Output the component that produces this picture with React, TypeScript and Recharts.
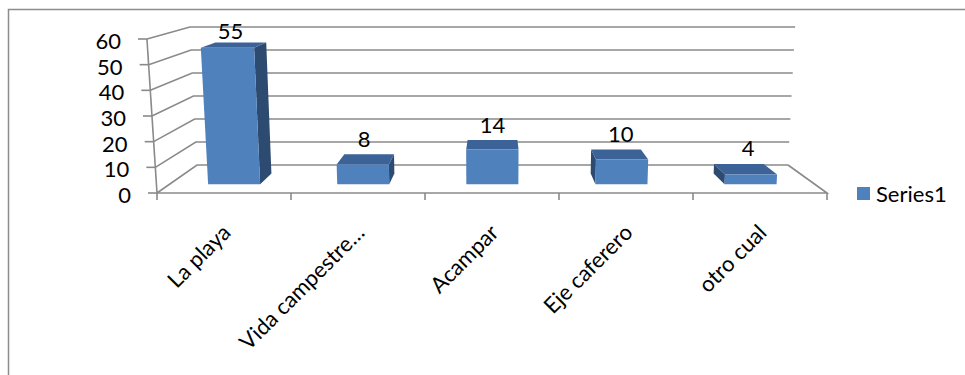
import { Bar, BarChart, Customized, LabelList, Legend, XAxis, YAxis } from "recharts";

const CATEGORIES = ["La playa", "Vida campestre…", "Acampar", "Eje caferero", "otro cual"];
const SERIES1 = [55, 8, 14, 10, 4];
const Y_TICKS = [0, 10, 20, 30, 40, 50, 60];
const Y_MAX = 60;

const data = CATEGORIES.map((name, i) => ({ name, Series1: SERIES1[i] }));

const FONT = "Lato, 'Open Sans', sans-serif";
const FONT_SIZE = 22;
const GRID = "#8a8a8a";
const FRONT = "#4f81bd";
const TOP = "#3b6397";
const SIDE = "#2d4a70";

// front plane of the 3-D box = the recharts plot area
const PLOT = { left: 157, top: 39, width: 670, height: 154 };
// back wall, where the gridlines sit
const BACK = { left: 197, bottom: 165, width: 591, height: 138 };
const CX = 492;
const BAR_T0 = 0.31;
const BAR_T1 = 0.7;

// u: across the category range, w: fraction of the value range, t: depth (0 front, 1 back)
function proj(u: number, w: number, t: number): [number, number] {
  const xf = PLOT.left + PLOT.width * u;
  const yf = PLOT.top + PLOT.height * (1 - w);
  const xb = BACK.left + BACK.width * u;
  const yb = BACK.bottom - BACK.height * w;
  const x = xf + (xb - xf) * t;
  const y = yf + (yb - yf) * t;
  const s = 0.03 - 0.006 * t;
  return [CX + (x - CX) * (1 + s * w), y];
}

const pts = (list: [number, number][]) => list.map((p) => p.join(",")).join(" ");

function Walls() {
  const lines = [];
  Y_TICKS.forEach((v) => {
    const w = v / Y_MAX;
    const a = proj(0, w, 0);
    const b = proj(0, w, 1);
    const c = proj(1, w, 1);
    lines.push(<polyline key={"g" + v} points={pts([a, b, c])} fill="none" stroke={GRID} strokeWidth={1.6} />);
  });
  const f0 = proj(0, 0, 0);
  const f1 = proj(1, 0, 0);
  const f2 = proj(1, 0, 1);
  const top = proj(0, 1, 0);
  lines.push(<polyline key="floor" points={pts([f0, f1, f2])} fill="none" stroke={GRID} strokeWidth={1.6} />);
  lines.push(<line key="yaxis" x1={f0[0]} y1={f0[1]} x2={top[0]} y2={top[1]} stroke={GRID} strokeWidth={1.6} />);
  for (let k = 0; k <= CATEGORIES.length; k++) {
    const p = proj(k / CATEGORIES.length, 0, 0);
    lines.push(<line key={"xt" + k} x1={p[0]} y1={p[1]} x2={p[0]} y2={p[1] + 7} stroke={GRID} strokeWidth={1.6} />);
  }
  return (
    <g>
      <polyline points="8.5,375 8.5,9.5 965,9.5" fill="none" stroke="#8c8c8c" strokeWidth={1.5} />
      {lines}
    </g>
  );
}

function Box3D(props: any) {
  const { x, y, width, height } = props;
  if (!width) return null;
  const base = PLOT.top + PLOT.height;
  const u0 = (x - PLOT.left) / PLOT.width;
  const u1 = (x + width - PLOT.left) / PLOT.width;
  const w = (base - (y + Math.min(0, height))) / PLOT.height;
  const fbl = proj(u0, 0, BAR_T0);
  const fbr = proj(u1, 0, BAR_T0);
  const ftl = proj(u0, w, BAR_T0);
  const ftr = proj(u1, w, BAR_T0);
  const bbl = proj(u0, 0, BAR_T1);
  const bbr = proj(u1, 0, BAR_T1);
  const btl = proj(u0, w, BAR_T1);
  const btr = proj(u1, w, BAR_T1);
  const sides = [];
  if (bbr[0] > fbr[0]) sides.push(<polygon key="r" points={pts([fbr, bbr, btr, ftr])} fill={SIDE} />);
  if (bbl[0] < fbl[0]) sides.push(<polygon key="l" points={pts([fbl, bbl, btl, ftl])} fill={SIDE} />);
  return (
    <g>
      {sides}
      <polygon points={pts([ftl, ftr, btr, btl])} fill={TOP} />
      <polygon points={pts([fbl, fbr, ftr, ftl])} fill={FRONT} />
    </g>
  );
}

function ValueLabel(props: any) {
  const { x, y, width, height, value } = props;
  const base = PLOT.top + PLOT.height;
  const u = (x + width / 2 - PLOT.left) / PLOT.width;
  const w = (base - (y + Math.min(0, height))) / PLOT.height;
  const [lx] = proj(u, w, 0.4);
  const [, ly] = proj(u, w, 1);
  return (
    <text x={lx} y={ly} textAnchor="middle" fontFamily={FONT} fontSize={FONT_SIZE} fill="#000">
      {value}
    </text>
  );
}

function ValueTick(props: any) {
  const { y, payload } = props;
  const w = (PLOT.top + PLOT.height - y) / PLOT.height;
  const [ax] = proj(0, w, 0);
  return (
    <g>
      <line x1={ax - 9} y1={y} x2={ax} y2={y} stroke={GRID} strokeWidth={1.6} />
      <text x={ax - 26} y={y + 10} textAnchor="end" fontFamily={FONT} fontSize={FONT_SIZE} fill="#000">
        {payload.value}
      </text>
    </g>
  );
}

function CategoryTick(props: any) {
  const { x, payload } = props;
  const ax = x + 8;
  const ay = 234;
  return (
    <text x={ax} y={ay} transform={`rotate(-45, ${ax}, ${ay})`} textAnchor="end" fontFamily={FONT} fontSize={FONT_SIZE} fill="#000">
      {payload.value}
    </text>
  );
}

function SeriesLegend({ payload }: any) {
  return (
    <div style={{ fontFamily: FONT, fontSize: FONT_SIZE, color: "#000" }}>
      {(payload ?? []).map((p: any) => (
        <div key={p.value} style={{ display: "flex", alignItems: "center" }}>
          <span style={{ width: 13, height: 13, background: FRONT, display: "inline-block", marginRight: 6 }} />
          <span>{p.value}</span>
        </div>
      ))}
    </div>
  );
}

export default function App() {
  return (
    <div style={{ position: "absolute", left: 0, top: 0, width: 965, height: 375, background: "#fff" }}>
      <BarChart
        width={965}
        height={375}
        data={data}
        margin={{ top: PLOT.top, right: 965 - PLOT.left - PLOT.width, bottom: 375 - PLOT.top - PLOT.height - 40, left: PLOT.left - 60 }}
        barCategoryGap="30%"
      >
        <Customized component={Walls} />
        <XAxis dataKey="name" height={40} axisLine={false} tickLine={false} interval={0} tick={<CategoryTick />} />
        <YAxis width={60} domain={[0, Y_MAX]} ticks={Y_TICKS} axisLine={false} tickLine={false} tick={<ValueTick />} />
        <Legend
          layout="vertical"
          align="center"
          verticalAlign="middle"
          wrapperStyle={{ left: 857, top: 180, width: 108 }}
          content={<SeriesLegend />}
        />
        <Bar dataKey="Series1" name="Series1" fill={FRONT} shape={<Box3D />} isAnimationActive={false}>
          <LabelList dataKey="Series1" content={<ValueLabel />} />
        </Bar>
      </BarChart>
    </div>
  );
}
